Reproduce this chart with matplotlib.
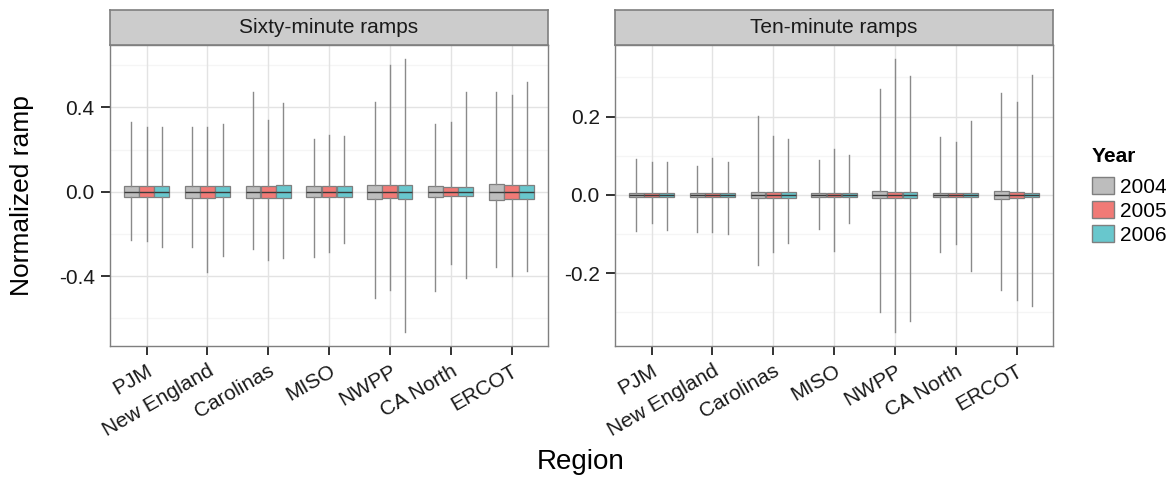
"""Boxplots of normalized ramps by region and year, two facets."""

from matplotlib import pyplot
from matplotlib.patches import Patch

# Data.
regions = ['PJM', 'New England', 'Carolinas', 'MISO', 'NWPP', 'CA North', 'ERCOT']
years = ['2004', '2005', '2006']
facets = ['Sixty-minute ramps', 'Ten-minute ramps']

# Sixty-minute ramps: whisker ends and quartiles, per year, per region.
sixty_lo = {
    '2004': [-0.229, -0.260, -0.273, -0.308, -0.502, -0.473, -0.358],
    '2005': [-0.232, -0.379, -0.323, -0.284, -0.465, -0.344, -0.402],
    '2006': [-0.260, -0.305, -0.316, -0.241, -0.667, -0.410, -0.376],
}
sixty_hi = {
    '2004': [0.331, 0.305, 0.473, 0.252, 0.426, 0.320, 0.473],
    '2005': [0.308, 0.308, 0.342, 0.268, 0.603, 0.331, 0.458],
    '2006': [0.305, 0.323, 0.421, 0.264, 0.631, 0.473, 0.521],
}
sixty_q1 = {
    '2004': [-0.027, -0.028, -0.030, -0.026, -0.036, -0.025, -0.038],
    '2005': [-0.024, -0.028, -0.030, -0.025, -0.030, -0.022, -0.033],
    '2006': [-0.024, -0.027, -0.030, -0.025, -0.033, -0.022, -0.033],
}
sixty_q3 = {
    '2004': [0.027, 0.027, 0.027, 0.027, 0.032, 0.027, 0.036],
    '2005': [0.027, 0.027, 0.028, 0.027, 0.030, 0.022, 0.033],
    '2006': [0.027, 0.027, 0.030, 0.027, 0.030, 0.022, 0.033],
}

# Ten-minute ramps.
ten_lo = {
    '2004': [-0.092, -0.096, -0.180, -0.086, -0.299, -0.146, -0.243],
    '2005': [-0.072, -0.094, -0.145, -0.142, -0.351, -0.125, -0.268],
    '2006': [-0.089, -0.101, -0.124, -0.073, -0.323, -0.194, -0.285],
}
ten_hi = {
    '2004': [0.091, 0.075, 0.202, 0.089, 0.271, 0.147, 0.260],
    '2005': [0.083, 0.095, 0.151, 0.118, 0.348, 0.134, 0.238],
    '2006': [0.083, 0.083, 0.144, 0.101, 0.305, 0.190, 0.306],
}
ten_q1 = {
    '2004': [-0.006, -0.006, -0.008, -0.006, -0.009, -0.006, -0.011],
    '2005': [-0.006, -0.006, -0.008, -0.006, -0.007, -0.006, -0.008],
    '2006': [-0.006, -0.006, -0.007, -0.006, -0.007, -0.006, -0.006],
}
ten_q3 = {
    '2004': [0.006, 0.006, 0.008, 0.006, 0.009, 0.006, 0.010],
    '2005': [0.006, 0.006, 0.008, 0.006, 0.007, 0.006, 0.008],
    '2006': [0.006, 0.006, 0.007, 0.006, 0.007, 0.006, 0.006],
}
medians = [0.0] * len(regions)

yticks = [[-0.4, 0.0, 0.4], [-0.2, 0.0, 0.2]]
yminor = [[-0.6, -0.2, 0.2, 0.6], [-0.3, -0.1, 0.1, 0.3]]

colors = {'2004': '#bdbdbd', '2005': '#f17a76', '2006': '#68c7cd'}
edge = '#7f7f7f'

pyplot.rc('font', family='Liberation Sans', size=15)
fig = pyplot.figure(figsize=(11.73, 4.78), dpi=100)

W, H = 1173.0, 478.0
panel_x = [110, 615]
panel_w = 438
panel_top, panel_bot = 45, 346
strip_top = 10

data = [(sixty_lo, sixty_hi, sixty_q1, sixty_q3), (ten_lo, ten_hi, ten_q1, ten_q3)]
width = 0.25
for k, facet in enumerate(facets):
    ax = fig.add_axes([panel_x[k] / W, 1 - panel_bot / H,
                       panel_w / W, (panel_bot - panel_top) / H])
    lo, hi, q1, q3 = data[k]
    allvals = [v for y in years for v in lo[y] + hi[y]]
    vmin, vmax = min(allvals), max(allvals)
    pad = 0.05 * (vmax - vmin)
    ax.set_ylim(vmin - pad, vmax + pad)
    ax.set_xlim(0.4, len(regions) + 0.6)

    # grid like theme_bw
    for yv in yminor[k]:
        ax.axhline(yv, color='#f5f5f5', linewidth=1.0, zorder=0)
    for yv in yticks[k]:
        ax.axhline(yv, color='#e3e3e3', linewidth=1.0, zorder=0)
    for i in range(len(regions)):
        ax.axvline(i + 1, color='#e3e3e3', linewidth=1.0, zorder=0)

    for j, year in enumerate(years):
        stats = []
        for i in range(len(regions)):
            stats.append(dict(med=medians[i], q1=q1[year][i], q3=q3[year][i],
                              whislo=lo[year][i], whishi=hi[year][i], fliers=[]))
        pos = [i + 1 + (j - 1) * width for i in range(len(regions))]
        ax.bxp(stats, positions=pos, widths=width * 0.98, patch_artist=True,
               showcaps=False, manage_ticks=False,
               boxprops=dict(facecolor=colors[year], edgecolor=edge, linewidth=0.9),
               whiskerprops=dict(color='#8a8a8a', linewidth=1.0),
               medianprops=dict(color='#3a3a3a', linewidth=1.0),
               zorder=3)

    ax.set_xticks(range(1, len(regions) + 1))
    ax.set_xticklabels(regions, rotation=30, ha='right', rotation_mode='anchor',
                       fontsize=15, color='#1a1a1a')
    ax.set_yticks(yticks[k])
    ax.set_yticklabels([f'{v:.1f}' for v in yticks[k]], fontsize=15, color='#1a1a1a')
    ax.tick_params(length=6.5, width=1.3, color='#222222', pad=4.5)
    for s in ax.spines.values():
        s.set_color(edge)
        s.set_linewidth(1.0)

    # facet strip
    sax = fig.add_axes([panel_x[k] / W, 1 - panel_top / H,
                        panel_w / W, (panel_top - strip_top) / H])
    sax.set_facecolor('#cccccc')
    sax.set_xticks([])
    sax.set_yticks([])
    for s in sax.spines.values():
        s.set_color(edge)
        s.set_linewidth(1.2)
    sax.text(0.5, 0.5, facet, ha='center', va='center', fontsize=15,
             color='#1a1a1a', transform=sax.transAxes)

fig.text(581 / W, 1 - 462 / H, 'Region', ha='center', va='center', fontsize=20)
fig.text(22 / W, 1 - 196 / H, 'Normalized ramp', ha='center', va='center',
         rotation=90, fontsize=19)

# legend: title placed separately to get the ggplot-like gap
fig.text(1092 / W, 1 - 157 / H, 'Year', ha='left', va='center',
         fontsize=15, fontweight='bold')
handles = [Patch(facecolor=colors[y], edgecolor=edge, label=y) for y in years]
leg = fig.legend(handles=handles, loc='upper left',
                 bbox_to_anchor=(1092 / W, 1 - 177 / H), frameon=False,
                 fontsize=15, handlelength=1.05, handleheight=0.85,
                 handletextpad=0.3, labelspacing=0.22, borderaxespad=0,
                 borderpad=0)

fig.savefig('out.png', dpi=100)
